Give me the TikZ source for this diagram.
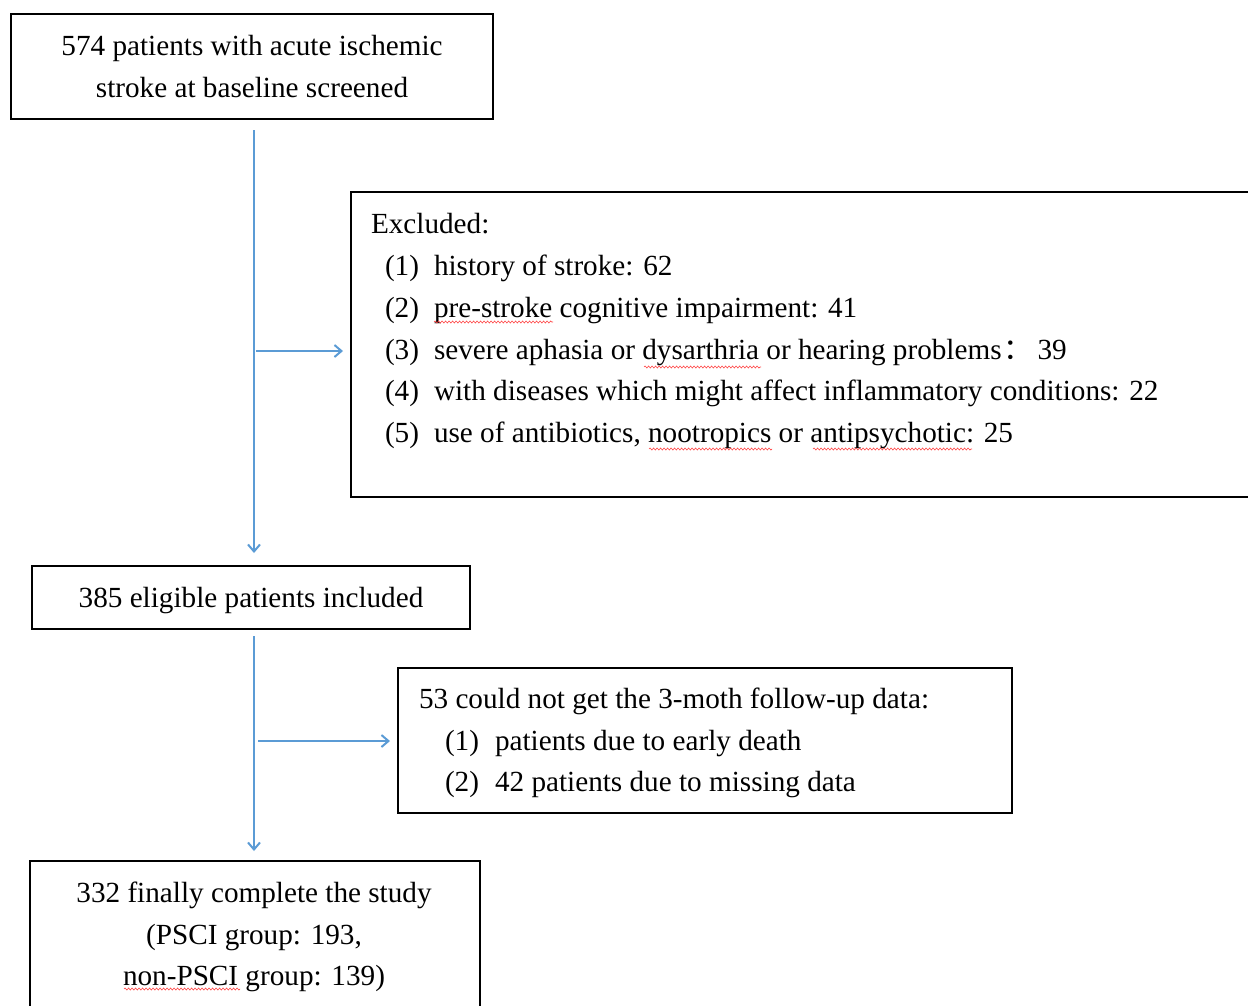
\documentclass[tikz,border=0pt]{standalone}
\usepackage{fontspec}
\setmainfont{Liberation Serif}
\newfontfamily\cjkfont{Noto Sans CJK SC}
\usetikzlibrary{arrows.meta,decorations.pathmorphing}
\definecolor{arrowblue}{RGB}{91,155,213}
\begin{document}
\begin{tikzpicture}[x=1pt,y=-1pt,
  box/.style={draw=black,line width=1.8pt,inner sep=0pt,outer sep=0pt,anchor=north west},
  txt/.style={font=\fontsize{29.2}{42}\selectfont,inner sep=0pt,outer sep=0pt},
  arr/.style={draw=arrowblue,line width=2pt,-{Straight Barb[length=7pt,width=12pt]}},
  squig/.style={draw=red!75,line width=0.6pt,decorate,decoration={snake,amplitude=1pt,segment length=3.5pt}}]
\useasboundingbox (0,0) rectangle (1248,1005);
\clip (0,0) rectangle (1248,1005);
% boxes
\node[box,minimum width=482pt,minimum height=105pt] (b1) at (11,14) {};
\node[box,minimum width=917pt,minimum height=305pt] (ex) at (351,192) {};
\node[box,minimum width=438pt,minimum height=63pt] (b2) at (32,566) {};
\node[box,minimum width=614pt,minimum height=145pt] (b3) at (398,668) {};
\node[box,minimum width=450pt,minimum height=170pt] (b4) at (30,861) {};
% texts
\node[txt,anchor=base] (t1a) at (252,55) {574 patients with acute ischemic};
\node[txt,anchor=base] (t1b) at (252,97) {stroke at baseline screened};
\node[txt,anchor=base west] (exh) at (371,233) {Excluded:};
\node[txt,anchor=base west] (exn1) at (385,275) {(1)};
\node[txt,anchor=base west] (ext1) at (434,275) {history of stroke: 62};
\node[txt,anchor=base west] (exn2) at (385,317) {(2)};
\node[txt,anchor=base west] (ext2) at (434,317) {pre-stroke cognitive impairment: 41};
\node[txt,anchor=base west] (exn3) at (385,359) {(3)};
\node[txt,anchor=base west] (ext3) at (434,359) {severe aphasia or dysarthria or hearing problems\kern2pt{\cjkfont ：}\,39};
\node[txt,anchor=base west] (exn4) at (385,400) {(4)};
\node[txt,anchor=base west] (ext4) at (434,400) {with diseases which might affect inflammatory conditions: 22};
\node[txt,anchor=base west] (exn5) at (385,442) {(5)};
\node[txt,anchor=base west] (ext5) at (434,442) {use of antibiotics, nootropics or antipsychotic: 25};
\node[txt,anchor=base] (t2) at (251,607) {385 eligible patients included};
\node[txt,anchor=base west] (t3h) at (419,708) {53 could not get the 3-moth follow-up data:};
\node[txt,anchor=base west] (t3n1) at (445,750) {(1)};
\node[txt,anchor=base west] (t3t1) at (495,750) {patients due to early death};
\node[txt,anchor=base west] (t3n2) at (445,791) {(2)};
\node[txt,anchor=base west] (t3t2) at (495,791) {42 patients due to missing data};
\node[txt,anchor=base] (t4a) at (254,902) {332 finally complete the study};
\node[txt,anchor=base] (t4b) at (254,944) {(PSCI group: 193,};
\node[txt,anchor=base] (t4c) at (254,985) {non-PSCI group: 139)};
% connectors
\coordinate (v1) at (254,0);
\coordinate (j1) at (256,351);
\coordinate (j2) at (258,741);
\draw[arr,shorten <=11pt,shorten >=13pt] (b1.south -| v1) -- (b2.north -| v1);
\draw[arr,shorten >=8pt] (j1) -- (j1 -| ex.west);
\draw[arr,shorten <=7pt,shorten >=10pt] (b2.south -| v1) -- (b4.north -| v1);
\draw[arr,shorten >=8pt] (j2) -- (j2 -| b3.west);
% spell-check underlines
\draw[squig] (434,322) -- (553,322);
\draw[squig] (644,367) -- (761,367);
\draw[squig] (649,449) -- (772,449);
\draw[squig] (813,449) -- (972,449);
\draw[squig] (124,989) -- (240,989);
\end{tikzpicture}
\end{document}
